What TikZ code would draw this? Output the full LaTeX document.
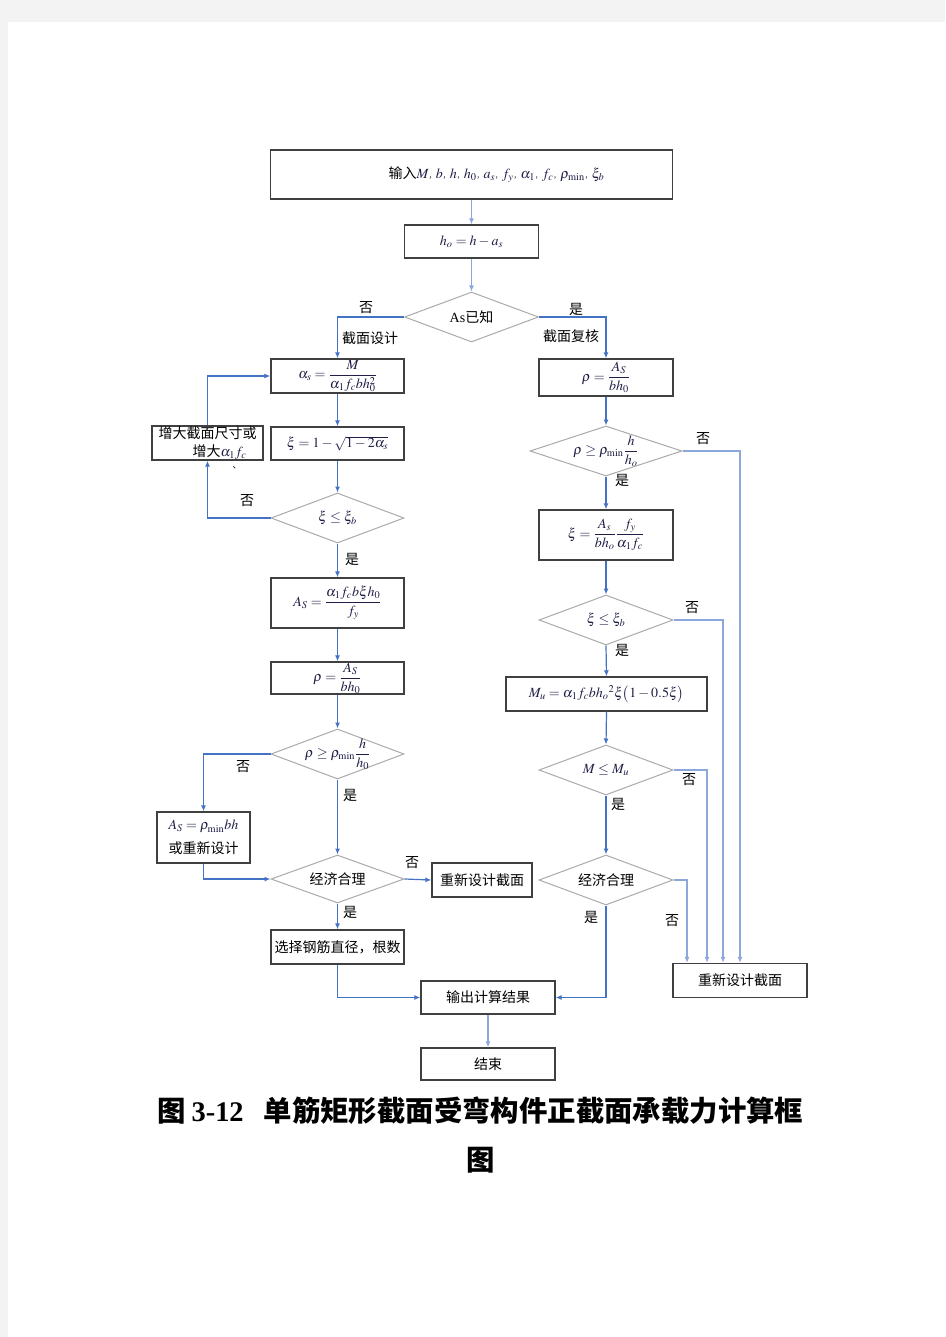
\documentclass[tikz,border=0pt]{standalone}
\usepackage{amsmath}
\usepackage{mathptmx}
\usepackage{fontspec}
\setmainfont{Liberation Serif}
\newfontfamily\cjk{Noto Sans CJK SC}
\usetikzlibrary{arrows.meta,shapes.geometric,calc}
\definecolor{pagegray}{RGB}{243,243,243}
\definecolor{boxc}{RGB}{64,64,64}
\definecolor{diac}{RGB}{170,170,170}
\definecolor{linec}{RGB}{68,114,196}
\definecolor{lightc}{RGB}{140,168,218}
\definecolor{mathc}{RGB}{30,30,70}
\newcommand\fm[1]{{\fontsize{14}{16}\selectfont\color{mathc}$#1$}}
\newcommand\sepc{{\cjk\fontsize{7}{7}\selectfont ，}}
\begin{document}
\begin{tikzpicture}[x=1pt,y=-1pt,
  box/.style={draw=boxc, line width=1.3pt, inner sep=0pt, fill=white, align=center, font=\fontsize{14}{16}\selectfont},
  dia/.style={diamond, draw=diac, line width=1pt, inner sep=0pt, fill=white},
  dtext/.style={inner sep=0pt, font=\fontsize{14}{16}\selectfont},
  con/.style={draw=linec, line width=1.2pt, -{Latex[length=6pt,width=5pt]}},
  lcon/.style={draw=lightc, line width=1.4pt, -{Latex[length=6pt,width=5pt]}},
  lab/.style={inner sep=0pt, font=\cjk\fontsize{14}{16}\selectfont}]
\useasboundingbox (0,0) rectangle (945,1337);
\fill[pagegray] (0,0) rectangle (945,1337);
\fill[white] (8,22) rectangle (945,1337);

% ---------- top ----------
\node[box, minimum width=402, minimum height=49] (inp) at (471.5,174.5)
  {\hspace*{50pt}{\cjk 输入}\fm{M}\sepc\fm{b}\sepc\fm{h}\sepc\fm{h_0}\sepc\fm{a_s}\sepc\fm{f_y}\sepc\fm{\alpha_1}\sepc\fm{f_c}\sepc\fm{\rho_{\mathrm{min}}}\sepc\fm{\xi_b}};
\node[box, minimum width=134, minimum height=33] (h0) at (471.5,241.5) {\fm{h_o = h - a_s}};
\node[dia, minimum width=134, minimum height=50] (d1) at (471.5,317) {};
\node[dtext] (d1t) at (d1.center) {As{\cjk 已知}};

% ---------- left column ----------
\node[box, minimum width=133, minimum height=34] (alpha) at (337.5,376) {\fm{\alpha_s = \dfrac{M}{\alpha_1 f_c b h_{\smash 0}^2}}};
\node[box, minimum width=133, minimum height=33] (xi) at (337.5,443.5) {\fm{\xi = 1 - \sqrt{1-2\alpha_s}}};
\node[dia, minimum width=133, minimum height=50] (d2) at (337.5,518) {};
\node[dtext] (d2t) at (d2.center) {\fm{\xi \le \xi_b}};
\node[box, minimum width=111, minimum height=34] (inc) at (207.5,443)
  {{\cjk 增大截面尺寸或}\\[2pt]\hspace*{24pt}{\cjk 增大}\fm{\alpha_1 f_c}};
\node[inner sep=0pt, font=\cjk\fontsize{9}{9}\selectfont] (stray) at (237,468) {、};
\node[box, minimum width=133, minimum height=50] (AS) at (337.5,603) {\fm{A_S = \dfrac{\alpha_1 f_c b \xi h_0}{f_y}}};
\node[box, minimum width=133, minimum height=32] (rho1) at (337.5,678) {\fm{\rho = \dfrac{A_S}{b h_0}}};
\node[dia, minimum width=133, minimum height=50] (d3) at (337.5,754) {};
\node[dtext] (d3t) at (d3.center) {\fm{\rho \ge \rho_{\mathrm{min}} \dfrac{h}{h_0}}};
\node[box, minimum width=93, minimum height=51] (asmin) at (203.5,837.5)
  {\fm{A_S = \rho_{\mathrm{min}} bh}\\[8pt]{\cjk 或重新设计}};
\node[dia, minimum width=133, minimum height=48] (d4) at (337.5,879) {};
\node[dtext] (d4t) at (d4.center) {\cjk 经济合理};
\node[box, minimum width=100, minimum height=34] (redo1) at (482,880) {\cjk 重新设计截面};
\node[box, minimum width=133, minimum height=34] (sel) at (337.5,947) {\cjk 选择钢筋直径，根数};
\node[box, minimum width=134, minimum height=33] (out) at (488,997.5) {\cjk 输出计算结果};
\node[box, minimum width=134, minimum height=32] (endn) at (488,1064) {\cjk 结束};

% ---------- right column ----------
\node[box, minimum width=134, minimum height=37] (rho2) at (606,377.5) {\fm{\rho = \dfrac{A_S}{b h_0}}};
\node[dia, minimum width=152, minimum height=50] (d5) at (606,451) {};
\node[dtext] (d5t) at (d5.center) {\fm{\rho \ge \rho_{\mathrm{min}} \dfrac{h}{h_o}}};
\node[box, minimum width=134, minimum height=50] (xi2) at (606,535) {\fm{\xi = \dfrac{A_s}{b h_o}\dfrac{f_y}{\alpha_1 f_c}}};
\node[dia, minimum width=134, minimum height=50] (d6) at (606,620) {};
\node[dtext] (d6t) at (d6.center) {\fm{\xi \le \xi_b}};
\node[box, minimum width=201, minimum height=34] (Mu) at (606.5,694) {\fm{M_u = \alpha_1 f_c b h_o{}^2 \xi\bigl(1-0.5\xi\bigr)}};
\node[dia, minimum width=134, minimum height=50] (d7) at (606,770) {};
\node[dtext] (d7t) at (d7.center) {\fm{M \le M_u}};
\node[dia, minimum width=134, minimum height=50] (d8) at (606,880) {};
\node[dtext] (d8t) at (d8.center) {\cjk 经济合理};
\node[box, minimum width=134, minimum height=34] (redo2) at (740,980.5) {\cjk 重新设计截面};

% ---------- connectors ----------
\draw[lcon] (inp.south) -- (h0.north);
\draw[lcon] (h0.south) -- (d1.north);
\draw[con] (d1.west) -| (alpha.north);
\draw[con] (d1.east) -| (rho2.north);
\draw[con] (alpha.south) -- (xi.north);
\draw[con] (xi.south) -- (d2.north);
\draw[con] (d2.west) -| (inc.south);
\draw[con] (inc.north) |- (alpha.west);
\draw[con] (d2.south) -- (AS.north);
\draw[con] (AS.south) -- (rho1.north);
\draw[con] (rho1.south) -- (d3.north);
\draw[con] (d3.west) -| (asmin.north);
\draw[con] (d3.south) -- (d4.north);
\draw[con] (asmin.south) |- (d4.west);
\draw[con] (d4.east) -- (redo1.west);
\draw[con] (d4.south) -- (sel.north);
\draw[con] (sel.south) |- (out.west);
\draw[lcon] (out.south) -- (endn.north);

\draw[con] (rho2.south) -- (d5.north);
\draw[lcon] (d5.east) -| (redo2.north);
\draw[con] (d5.south) -- (xi2.north);
\draw[con] (xi2.south) -- (d6.north);
\draw[lcon] (d6.east) -| ([xshift=-17pt]redo2.north);
\draw[con] (d6.south) -- (Mu.north);
\draw[con] (Mu.south) -- (d7.north);
\draw[lcon] (d7.east) -| ([xshift=-33pt]redo2.north);
\draw[con] (d7.south) -- (d8.north);
\draw[lcon] (d8.east) -| ([xshift=-53pt]redo2.north);
\draw[con] (d8.south) |- (out.east);

% ---------- labels ----------
\node[lab] (l1) at (366,308) {否};
\node[lab] (l2) at (370,338) {截面设计};
\node[lab] (l3) at (576,309) {是};
\node[lab] (l4) at (571,336) {截面复核};
\node[lab] (l5) at (247,501) {否};
\node[lab] (l6) at (352,559) {是};
\node[lab] (l7) at (243,767) {否};
\node[lab] (l8) at (350,795) {是};
\node[lab] (l9) at (412,863) {否};
\node[lab] (l10) at (350,912) {是};
\node[lab] (l11) at (703,439) {否};
\node[lab] (l12) at (622,480) {是};
\node[lab] (l13) at (692,608) {否};
\node[lab] (l14) at (622,650) {是};
\node[lab] (l15) at (689,780) {否};
\node[lab] (l16) at (618,804) {是};
\node[lab] (l17) at (672,921) {否};
\node[lab] (l18) at (591,917) {是};

% ---------- caption ----------
\node[anchor=west, inner sep=0pt, font=\fontsize{28.4}{30}\selectfont] (cap1) at (157,1111)
  {{\cjk\bfseries 图}\hspace{6pt}{\bfseries 3-12}\hspace{20pt}{\cjk\bfseries 单筋矩形截面受弯构件正截面承载力计算框}};
\node[inner sep=0pt, font=\cjk\bfseries\fontsize{28.4}{30}\selectfont] (cap2) at (481,1160) {图};
\end{tikzpicture}
\end{document}
